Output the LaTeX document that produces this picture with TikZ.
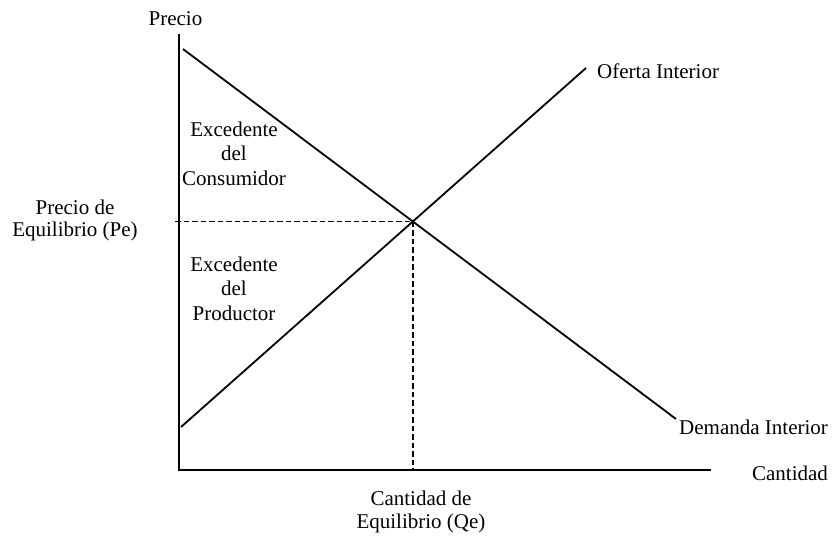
\documentclass[tikz,border=0pt]{standalone}
\usepackage{fontspec}
\setmainfont{Liberation Serif}

\begin{document}
\begin{tikzpicture}[x=1pt,y=-1pt,
    font=\fontsize{21}{24}\selectfont,
    lbl/.style={inner sep=0pt,anchor=base,align=center},
    axis/.style={line width=2.2pt},
    curve/.style={line width=1.8pt},
    guide/.style={line width=1.8pt,dash pattern=on 5.5pt off 3pt}]

    \useasboundingbox (0,0) rectangle (833,539);

    % axes
    \coordinate (o) at (179,470);
    \coordinate (ytop) at (179,34);
    \coordinate (xend) at (711,470);
    \draw[axis](ytop) -- (o) -- (xend);

    % curves
    \coordinate (d0) at (183,49);
    \coordinate (d1) at (676,419);
    \coordinate (s0) at (181,427);
    \coordinate (s1) at (586,68);
    \draw[curve](d0) -- (d1); % demanda
    \draw[curve](s0) -- (s1); % oferta

    % equilibrium
    \coordinate (eq) at (412.8,221.5);
    \coordinate (pe) at (175,221.5);
    \coordinate (qe) at (412.8,470);
    \draw[guide](pe) -- (eq); % precio de equilibrio
    \draw[guide](eq) -- (qe); % cantidad de equilibrio

    % labels
    \node[lbl] (precio) at (175.5,25) {Precio};
    \node[lbl] (cantidad) at (790,480) {Cantidad};
    \node[lbl,anchor=base west] (oferta) at (597,78) {Oferta Interior};
    \node[lbl,anchor=base west] (demanda) at (679,434) {Demanda Interior};
    \node[lbl,anchor=north] (pelabel) at (75,199.5) {Precio de\\[-2pt]Equilibrio (Pe)};
    \node[lbl,anchor=north] (qelabel) at (421,490.5) {Cantidad de\\[-1pt]Equilibrio (Qe)};

    % surplus areas
    \node[lbl,anchor=north] (ec) at (234,121.5) {Excedente\\[0.5pt]del\\[0.5pt]Consumidor};
    \node[lbl,anchor=north] (ep) at (234,256.5) {Excedente\\[0.5pt]del\\[0.5pt]Productor};

\end{tikzpicture}
\end{document}
